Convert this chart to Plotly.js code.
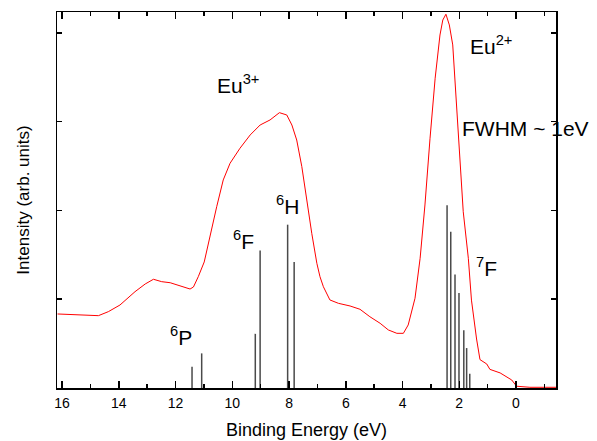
<!DOCTYPE html>
<html>
<head>
<meta charset="utf-8">
<script src="https://cdn.plot.ly/plotly-3.0.1.min.js"></script>
<style>html,body{margin:0;padding:0;background:#fff}#chart{width:597px;height:441px}</style>
</head>
<body>
<div id="chart"></div>
<script>
// Measured spectrum (binding energy in eV, intensity in arb. units)
const energy = [16.16, 15.72, 15.07, 14.72, 14.37, 13.96, 13.43, 13.07, 12.78, 12.49, 12.19, 11.84, 11.49, 11.37, 11.20, 10.99, 10.72, 10.55, 10.32, 10.08, 9.73, 9.37, 9.02, 8.67, 8.34, 8.08, 7.90, 7.73, 7.55, 7.38, 7.20, 7.02, 6.91, 6.79, 6.56, 6.26, 5.85, 5.50, 5.15, 4.79, 4.50, 4.20, 3.97, 3.80, 3.56, 3.38, 3.21, 3.03, 2.85, 2.68, 2.58, 2.47, 2.35, 2.23, 2.09, 1.97, 1.86, 1.68, 1.57, 1.39, 1.27, 1.03, 0.92, 0.56, 0.30, 0.15, -0.02, -0.49, -1.41];
const intensity = [0.834, 0.828, 0.823, 0.815, 0.860, 0.935, 1.085, 1.172, 1.225, 1.198, 1.186, 1.149, 1.115, 1.138, 1.254, 1.42, 1.817, 2.043, 2.344, 2.532, 2.701, 2.851, 2.963, 3.020, 3.102, 3.076, 2.963, 2.794, 2.494, 2.118, 1.743, 1.405, 1.254, 1.141, 0.992, 0.954, 0.924, 0.887, 0.803, 0.729, 0.654, 0.616, 0.616, 0.710, 1.011, 1.461, 2.062, 2.814, 3.490, 3.977, 4.146, 4.211, 4.090, 3.865, 3.189, 2.513, 1.986, 1.461, 0.99, 0.552, 0.32, 0.27, 0.21, 0.17, 0.12, 0.09, 0.02, 0.008, 0.008];

// Multiplet line positions (eV) and heights (arb. units)
const stickEnergy = [11.42, 11.08, 9.19, 9.02, 8.05, 7.82, 2.43, 2.30, 2.15, 2.01, 1.84, 1.74, 1.63];
const stickHeight = [0.24, 0.39, 0.61, 1.55, 1.84, 1.42, 2.06, 1.76, 1.28, 1.07, 0.65, 0.45, 0.16];

// Labels
const labelText = ['Eu<sup>3+</sup>', 'Eu<sup>2+</sup>', 'FWHM ~ 1eV', '<sup>6</sup>H', '<sup>6</sup>F', '<sup>6</sup>P', '<sup>7</sup>F'];
const labelX = [10.6, 1.68, 1.98, 8.52, 10.06, 12.27, 1.47];
const labelY = [3.43, 3.865, 2.92, 2.06, 1.67, 0.586, 1.367];

const sx = [], sy = [];
stickEnergy.forEach((e, i) => { sx.push(e, e, null); sy.push(0, stickHeight[i], null); });

const font = 'Liberation Sans, Arial, sans-serif';

const traces = [
  {x: sx, y: sy, type: 'scatter', mode: 'lines', line: {color: '#4a4a4a', width: 1.5}, hoverinfo: 'skip', showlegend: false},
  {x: energy, y: intensity, type: 'scatter', mode: 'lines', line: {color: '#ff0000', width: 1}, showlegend: false}
];

const axisCommon = {
  showline: true, linecolor: '#000', linewidth: 1.5, mirror: 'ticks',
  ticks: 'inside', tickcolor: '#000', tickwidth: 1.5,
  showgrid: false, zeroline: false
};

const layout = {
  width: 597, height: 441,
  margin: {l: 57, r: 41, t: 12, b: 53},
  paper_bgcolor: '#fff', plot_bgcolor: '#fff',
  font: {family: font, color: '#000'},
  showlegend: false,
  xaxis: Object.assign({}, axisCommon, {
    range: [16.18, -1.41], tick0: 0, dtick: 2, ticklen: 7,
    minor: {dtick: 1, tick0: 0, ticks: 'inside', ticklen: 4, tickcolor: '#000', tickwidth: 1.5},
    tickfont: {size: 14, family: font}, ticklabelstandoff: 2,
    title: {text: 'Binding Energy (eV)', font: {size: 18, family: font}, standoff: 13}
  }),
  yaxis: Object.assign({}, axisCommon, {
    range: [0, 4.236], tick0: 0, dtick: 1, ticklen: 5, showticklabels: false,
    title: {text: 'Intensity (arb. units)', font: {size: 17, family: font}, standoff: 21}
  }),
  annotations: labelText.map((t, i) => ({
    x: labelX[i], y: labelY[i], xref: 'x', yref: 'y', text: t, showarrow: false,
    xanchor: 'left', yanchor: 'middle', font: {size: 21, family: font, color: '#000'}
  }))
};

Plotly.newPlot('chart', traces, layout, {displayModeBar: false, staticPlot: true});
</script>
</body>
</html>
